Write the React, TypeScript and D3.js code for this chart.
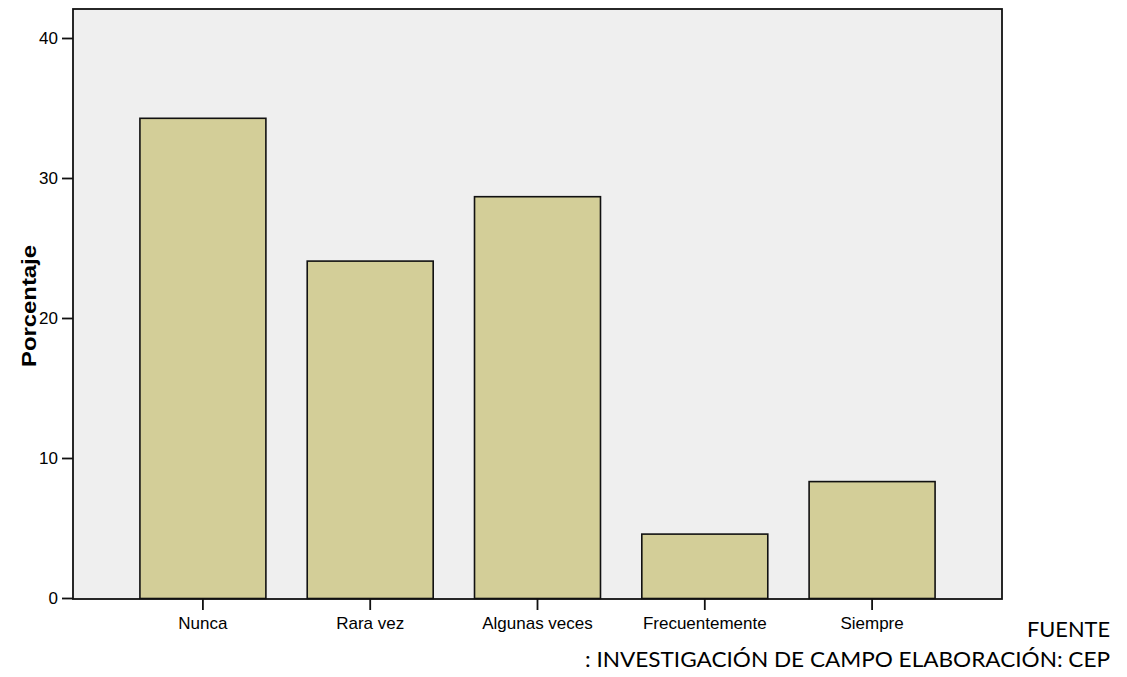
import * as React from "react";
import * as d3 from "d3";

const categories = ["Nunca", "Rara vez", "Algunas veces", "Frecuentemente", "Siempre"];
const values = [34.3, 24.1, 28.7, 4.6, 8.35];
const yTicks = [0, 10, 20, 30, 40];
const yTitle = "Porcentaje";
const sourceLines = ["FUENTE", ": INVESTIGACIÓN DE CAMPO ELABORACIÓN: CEP"];

const W = 1127;
const H = 677;
const plot = { left: 73, right: 1002, top: 9, bottom: 599 };

export default function App() {
  const x = d3
    .scaleBand<string>()
    .domain(categories)
    .range([plot.left, plot.right])
    .paddingInner(0.247)
    .paddingOuter(0.4);
  // 0 sits on the axis line, 40 at y=38
  const y = d3.scaleLinear().domain([0, 40]).range([598.5, 38.5]);

  const font = "'Liberation Sans', Arial, sans-serif";

  return (
    <svg width={W} height={H} style={{ position: "absolute", left: 0, top: 0, background: "#fff" }}>
      {/* plot background */}
      <rect
        x={plot.left}
        y={plot.top}
        width={plot.right - plot.left}
        height={plot.bottom - plot.top}
        fill="#efefef"
      />

      {/* bars */}
      {categories.map((c, i) => (
        <rect
          key={c}
          x={x(c)!}
          y={y(values[i])}
          width={x.bandwidth()}
          height={y(0) - y(values[i])}
          fill="#d3ce98"
          stroke="#111"
          strokeWidth={1.6}
        />
      ))}

      {/* frame */}
      <rect
        x={plot.left}
        y={plot.top}
        width={plot.right - plot.left}
        height={plot.bottom - plot.top}
        fill="none"
        stroke="#111"
        strokeWidth={1.8}
      />

      {/* y axis */}
      {yTicks.map((t) => (
        <g key={t}>
          <line x1={62} x2={plot.left} y1={y(t)} y2={y(t)} stroke="#111" strokeWidth={1.8} />
          <text
            x={58}
            y={y(t)}
            textAnchor="end"
            dominantBaseline="central"
            fontFamily={font}
            fontSize={17}
            fill="#000"
          >
            {t}
          </text>
        </g>
      ))}

      <text
        transform={`translate(29,${(245 + 367) / 2}) rotate(-90)`}
        textAnchor="middle"
        dominantBaseline="central"
        fontFamily={font}
        fontSize={20}
        fontWeight="bold"
        textLength={122}
        lengthAdjust="spacingAndGlyphs"
        fill="#000"
      >
        {yTitle}
      </text>

      {/* x axis */}
      {categories.map((c) => {
        const cx = x(c)! + x.bandwidth() / 2;
        return (
          <g key={c}>
            <line x1={cx} x2={cx} y1={plot.bottom} y2={610} stroke="#111" strokeWidth={1.8} />
            <text
              x={cx}
              y={623}
              textAnchor="middle"
              dominantBaseline="central"
              fontFamily={font}
              fontSize={17}
              fill="#000"
            >
              {c}
            </text>
          </g>
        );
      })}

      {/* source note */}
      {sourceLines.map((s, i) => (
        <text
          key={s}
          x={1110}
          y={637 + i * 30}
          textAnchor="end"
          fontFamily="Lato, 'Open Sans', sans-serif"
          fontSize={21}
          textLength={i === 0 ? 83 : 525}
          lengthAdjust="spacingAndGlyphs"
          fill="#000"
        >
          {s}
        </text>
      ))}
    </svg>
  );
}
